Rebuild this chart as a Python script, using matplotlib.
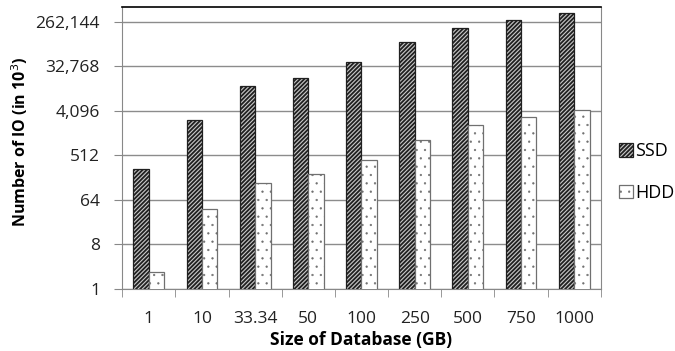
import matplotlib
matplotlib.use("Agg")
import matplotlib.pyplot as plt
import numpy as np
from matplotlib.ticker import FixedLocator, FuncFormatter, NullLocator

plt.rcParams['font.family'] = ['Open Sans', 'DejaVu Sans']
plt.rcParams['hatch.linewidth'] = 1.3

categories = ["1", "10", "33.34", "50", "100", "250", "500", "750", "1000"]
ssd = [266, 2700, 13200, 19200, 40300, 102000, 198000, 285000, 388000]
hdd = [2.2, 42, 140, 213, 409, 1023, 2057, 3085, 4140]
yticks = [1, 8, 64, 512, 4096, 32768, 262144]

fig = plt.figure(figsize=(6.75, 3.51), dpi=100)
ax = fig.add_axes([0.181, 0.177, 0.709, 0.804])

x = np.arange(len(categories))
w = 0.29
b1 = ax.bar(x - w/2, ssd, w, bottom=0, color='#c8c8c8', edgecolor='#202020',
            hatch='////////', linewidth=0.9, label='SSD', zorder=3)
b2 = ax.bar(x + w/2, hdd, w, bottom=0, color='white', edgecolor='#707070',
            hatch='..', linewidth=0.9, label='HDD', zorder=3)
for p in b2:
    if hasattr(p, 'set_hatch_linewidth'):
        p.set_hatch_linewidth(0.4)

ax.set_yscale('log', base=8)
ax.set_ylim(1, 524288)
ax.set_xlim(-0.5, len(categories) - 0.5)
ax.yaxis.set_major_locator(FixedLocator(yticks))
ax.yaxis.set_minor_locator(NullLocator())
ax.yaxis.set_major_formatter(FuncFormatter(lambda v, p: f"{int(round(v)):,}"))
ax.set_xticks(x)
ax.set_xticklabels(categories)
ax.set_xticks(np.arange(len(categories) + 1) - 0.5, minor=True)
ax.tick_params(axis='x', which='major', length=0, pad=16, labelsize=12.5, labelcolor='#222222')
ax.tick_params(axis='x', which='minor', length=6, color='#888888', direction='out')
ax.tick_params(axis='y', length=6, color='#888888', direction='out', labelsize=12.5,
               pad=10, labelcolor='#222222')

ax.grid(axis='y', color='#8c8c8c', linewidth=1.0, zorder=0)
for s in ['left', 'right', 'bottom']:
    ax.spines[s].set_color('#888888')
ax.spines['top'].set_color('black')
ax.spines['top'].set_linewidth(1.2)

fig.text(20/675, 1 - 142/351, 'Number of IO (in 10$^3$)', rotation=90, fontsize=11.5,
         fontweight='bold', ha='center', va='center')
fig.text(361/675, 1 - 340/351, 'Size of Database (GB)', fontsize=12.5,
         fontweight='bold', ha='center', va='center')

leg = fig.legend(handles=[b1, b2], labels=['SSD', 'HDD'], loc='center left',
                 bbox_to_anchor=(0.917, 1 - 172/351), frameon=False, fontsize=13,
                 handlelength=0.75, handleheight=0.75, handletextpad=0.15,
                 labelspacing=1.3, borderpad=0, borderaxespad=0)
for h in leg.legend_handles[1:]:
    if hasattr(h, 'set_hatch_linewidth'):
        h.set_hatch_linewidth(0.4)

fig.savefig('out.png', dpi=100)
